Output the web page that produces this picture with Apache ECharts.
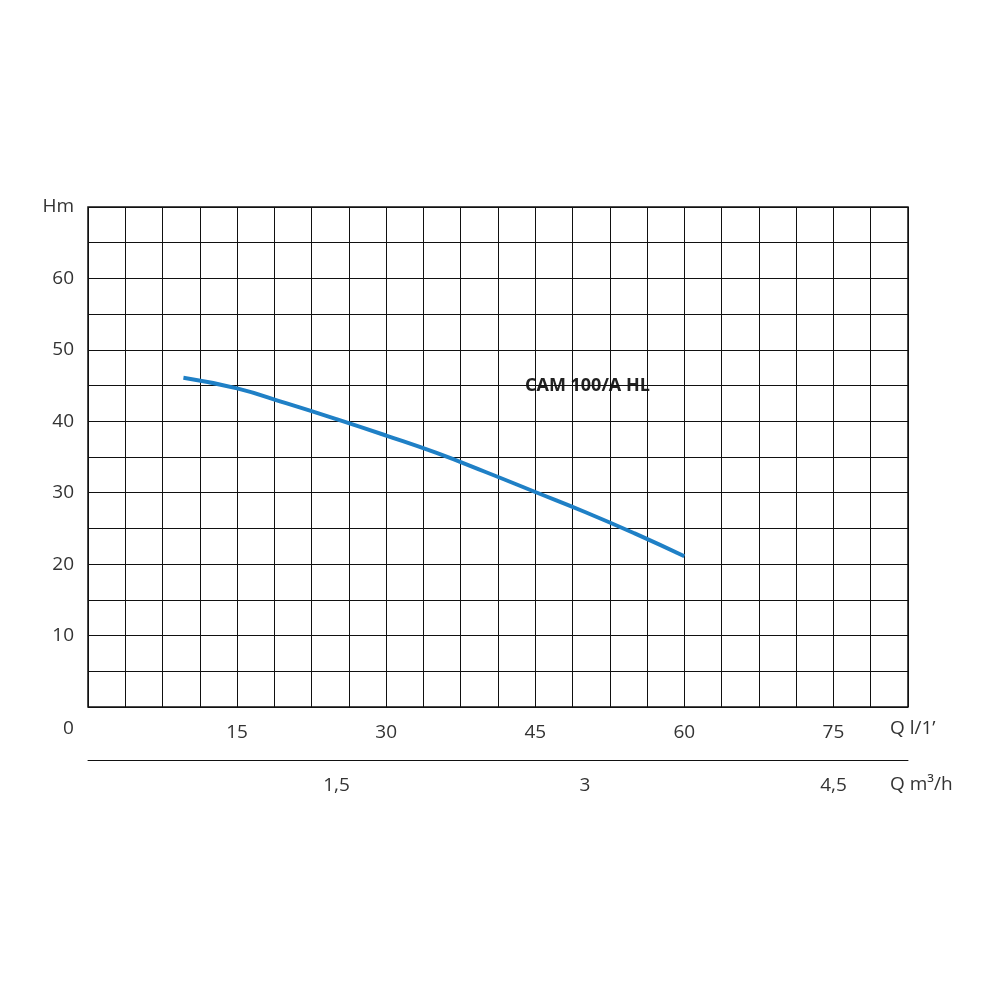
<!DOCTYPE html>
<html style='height: 100%'>
<head>
    <meta charset='utf-8'>
</head>
<body style='height: 100%; margin: 0; background: #fff'>
    <div id='container' style='height: 100%'></div>
    <script type='text/javascript' src='https://cdn.jsdelivr.net/npm/echarts@6/dist/echarts.min.js'></script>
    <script type="text/javascript">
// flow Q in l/min, head H in m
var flow = [9.6, 15, 20, 25, 30, 35, 40, 45, 50, 55, 60];
var head = [46.1, 44.6, 42.5, 40.3, 38.0, 35.6, 32.9, 30.1, 27.3, 24.3, 21.1];
var curveName = 'CAM 100/A HL';

var dom = document.getElementById("container");
var myChart = echarts.init(dom);
var font = "'Open Sans', 'Noto Sans', sans-serif";
var option = {
    animation: false,
    grid: {left: 88, right: 92, top: 207, bottom: 293, show: true, borderColor: '#111', borderWidth: 1.5},
    xAxis: [
        {
            type: 'value', min: 0, max: 82.5, interval: 3.75,
            axisLine: {show: false}, axisTick: {show: false},
            splitLine: {lineStyle: {color: '#111', width: 1}},
            axisLabel: {
                margin: 16, color: '#333', fontSize: 19, fontFamily: font,
                formatter: function (v) { return (v > 0 && v % 15 === 0) ? String(v) : ''; }
            }
        },
        {
            type: 'value', min: 0, max: 82.5, interval: 12.5, position: 'bottom', offset: 53,
            axisLine: {show: true, onZero: false, lineStyle: {color: '#111', width: 1}},
            axisTick: {show: false}, splitLine: {show: false},
            axisLabel: {
                margin: 16, color: '#333', fontSize: 19, fontFamily: font,
                formatter: function (v) { return (v > 0 && v % 25 === 0) ? String(v * 60 / 1000).replace('.', ',') : ''; }
            }
        }
    ],
    yAxis: {
        type: 'value', min: 0, max: 70, interval: 5,
        axisLine: {show: false}, axisTick: {show: false},
        splitLine: {lineStyle: {color: '#111', width: 1}},
        axisLabel: {
            margin: 14, color: '#333', fontSize: 19, fontFamily: font,
            formatter: function (v) { return v === 70 ? 'Hm' : ((v > 0 && v % 10 === 0) ? String(v) : ''); }
        }
    },
    graphic: [
        {type: 'text', left: 63, top: 719, style: {text: '0', fill: '#333', font: '19px ' + font}},
        {type: 'text', left: 890, top: 719, style: {text: "Q l/1’", fill: '#333', font: '19px ' + font}},
        {type: 'text', left: 890, top: 775, style: {text: 'Q m³/h', fill: '#333', font: '19px ' + font}},
        {type: 'text', left: 525, top: 377, style: {text: curveName, fill: '#222', font: 'bold 18px ' + font}}
    ],
    series: [{
        type: 'line', name: curveName, smooth: true, showSymbol: false,
        lineStyle: {color: '#1f80c6', width: 4},
        data: flow.map(function (q, i) { return [q, head[i]]; })
    }]
};
myChart.setOption(option, true);
    </script>
</body>
</html>
